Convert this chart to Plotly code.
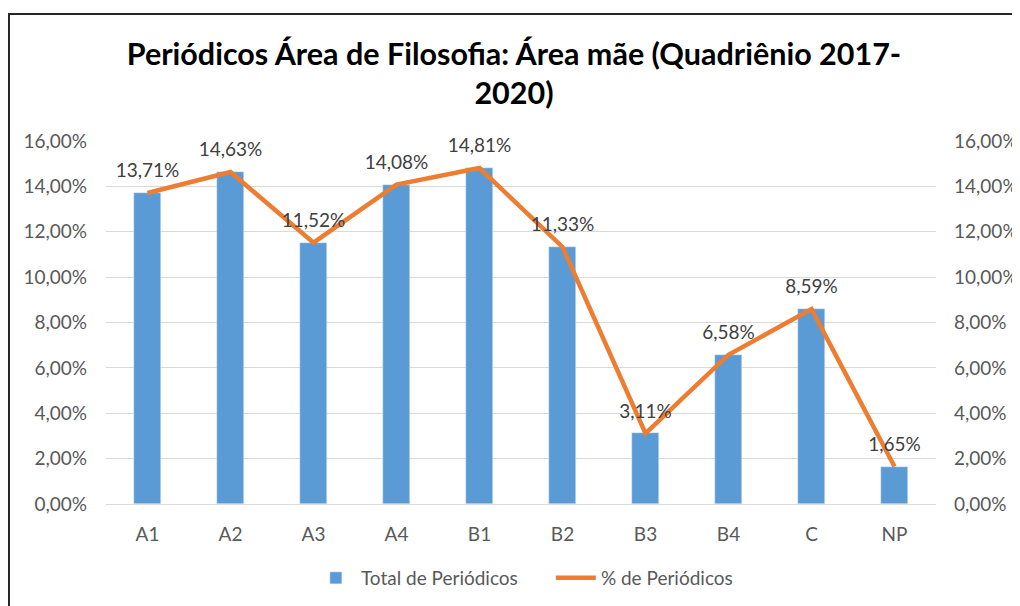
import plotly.graph_objects as go

categories = ["A1", "A2", "A3", "A4", "B1", "B2", "B3", "B4", "C", "NP"]
total_periodicos = [0.1371, 0.1463, 0.1152, 0.1408, 0.1481, 0.1133, 0.0311, 0.0658, 0.0859, 0.0165]
pct_periodicos = [0.1371, 0.1463, 0.1152, 0.1408, 0.1481, 0.1133, 0.0311, 0.0658, 0.0859, 0.0165]
tick_vals = [0, 0.02, 0.04, 0.06, 0.08, 0.10, 0.12, 0.14, 0.16]

labels = [("%.2f%%" % (v * 100)).replace(".", ",") for v in pct_periodicos]

FONT = "Lato"
fig = go.Figure()
fig.add_trace(go.Bar(
    x=categories, y=total_periodicos, name="Total de Periódicos",
    marker=dict(color="#5B9BD5"), width=0.32,
))
fig.add_trace(go.Scatter(
    x=categories, y=pct_periodicos, name="% de Periódicos", yaxis="y2",
    mode="lines+markers+text", line=dict(color="#ED7D31", width=4.5),
    marker=dict(size=16, color="rgba(0,0,0,0)"),
    text=labels, textposition="top center",
    textfont=dict(size=19, color="#404040", family=FONT),
    cliponaxis=False,
))

tick_font = dict(size=19, color="#595959", family=FONT)
fig.update_layout(
    width=1012, height=598,
    margin=dict(l=98, r=84, t=133, b=102),
    paper_bgcolor="white", plot_bgcolor="white",
    separators=", ",
    title=dict(text="<b>Periódicos Área de Filosofia: Área mãe (Quadriênio 2017-<br>2020)</b>",
               x=0.5, xanchor="center", y=0.905, yanchor="top",
               font=dict(size=30.5, color="black", family=FONT)),
    xaxis=dict(range=[-0.5, 9.5], showgrid=False, showline=True, linecolor="#d9d9d9",
               linewidth=1, ticklabelstandoff=13, automargin=False,
               tickfont=tick_font, ticks=""),
    yaxis=dict(range=[0, 0.16], tickvals=tick_vals, tickformat=".2%",
               ticklabelstandoff=18, automargin=False, tickfont=tick_font,
               showgrid=True, gridcolor="#d9d9d9", zeroline=False, showline=False),
    yaxis2=dict(range=[0, 0.16], tickvals=tick_vals, tickformat=".2%",
                ticklabelstandoff=17, automargin=False, tickfont=tick_font,
                overlaying="y", side="right", showgrid=False, zeroline=False,
                showline=False),
    legend=dict(orientation="h", x=0.536, xanchor="center",
                yref="container", y=0.0468, yanchor="middle",
                itemwidth=40, entrywidth=185,
                font=dict(size=19, color="#595959", family=FONT)),
    bargap=0.0,
    shapes=[dict(type="rect", xref="paper", yref="paper",
                 x0=-0.1169, x1=1.2, y0=-0.4, y1=1.3499,
                 line=dict(color="#262626", width=2), fillcolor="rgba(0,0,0,0)", layer="below")],
)
fig.write_html("out.html")
